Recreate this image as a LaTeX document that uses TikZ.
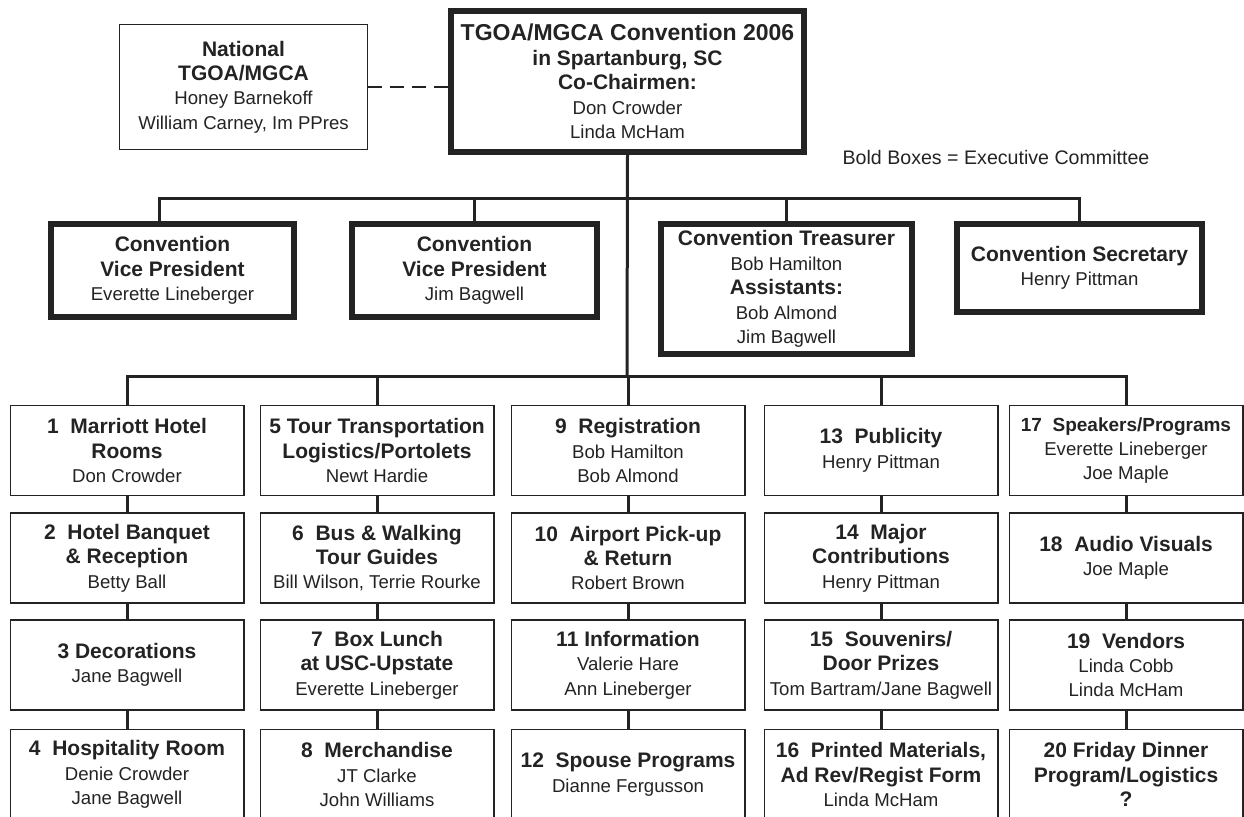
\documentclass[tikz,border=0pt]{standalone}
\usepackage{fontspec}
\setmainfont{Liberation Sans}
\usepackage{xcolor}
\usepackage{tikz}
\usetikzlibrary{positioning, arrows.meta}

\definecolor{ink}{HTML}{232323}
\newcommand{\hdr}[1]{{\fontsize{10.5}{12.2}\selectfont\bfseries #1}}

\begin{document}
\begin{tikzpicture}[
    x=0.5pt, y=-0.5pt, color=ink,
    font=\fontsize{9.3}{12.2}\selectfont,
    gnode/.style={draw, line width=0.75pt, minimum width=116.75pt, minimum height=45pt, inner sep=0pt, align=center},
    xnode/.style={draw, line width=3pt, inner sep=0pt, align=center},
    link/.style={line width=1.5pt, line join=miter}
]
\useasboundingbox (0,0) rectangle (1244,817);

\node[xnode, minimum width=176.5pt, minimum height=70.5pt] (chair) at (627.5, 81.5)
    {{\fontsize{11.5}{12.2}\selectfont\bfseries TGOA/MGCA Convention 2006}\\ \hdr{in Spartanburg, SC}\\ \hdr{Co-Chairmen:}\\ Don Crowder\\ Linda McHam};
\node[draw, line width=0.75pt, minimum width=124pt, minimum height=62.5pt, inner sep=0pt, align=center] (natl) at (243.5, 87)
    {\hdr{National}\\ \hdr{TGOA/MGCA}\\ Honey Barnekoff\\ William Carney, Im PPres};
\node[font=\fontsize{9.8}{12.2}\selectfont] (note) at (996, 158) {Bold Boxes = Executive Committee};

% executive committee
\node[xnode, minimum width=121.5pt, minimum height=46.5pt] (vp1) at (172.5, 270.5)
    {\hdr{Convention}\\ \hdr{Vice President}\\ Everette Lineberger};
\node[xnode, minimum width=122.5pt, minimum height=46.5pt] (vp2) at (474.5, 270.5)
    {\hdr{Convention}\\ \hdr{Vice President}\\ Jim Bagwell};
\node[xnode, minimum width=125.5pt, minimum height=65pt] (treas) at (786.5, 289)
    {\hdr{Convention Treasurer}\\ Bob Hamilton\\ \hdr{Assistants:}\\ Bob Almond\\ Jim Bagwell};
\node[xnode, minimum width=122.5pt, minimum height=44pt] (secr) at (1079.5, 268)
    {\hdr{Convention Secretary}\\ Henry Pittman};

% committees
\node[gnode] (rooms) at (127, 450.5) {\hdr{1\ \ Marriott Hotel}\\ \hdr{Rooms}\\ Don Crowder};
\node[gnode] (banquet) at (127, 558) {\hdr{2\ \ Hotel Banquet}\\ \hdr{\& Reception}\\ Betty Ball};
\node[gnode] (decor) at (127, 665) {\hdr{3 Decorations}\\ Jane Bagwell};
\node[gnode] (hosp) at (127, 774.5) {\hdr{4\ \ Hospitality Room}\\ Denie Crowder\\ Jane Bagwell};

\node[gnode] (transp) at (377, 450.5) {\hdr{5 Tour Transportation}\\ \hdr{Logistics/Portolets}\\ Newt Hardie};
\node[gnode] (guides) at (377, 558) {\hdr{6\ \ Bus \& Walking}\\ \hdr{Tour Guides}\\ Bill Wilson, Terrie Rourke};
\node[gnode] (lunch) at (377, 665) {\hdr{7\ \ Box Lunch}\\ \hdr{at USC-Upstate}\\ Everette Lineberger};
\node[gnode] (merch) at (377, 774.5) {\hdr{8\ \ Merchandise}\\ JT Clarke\\ John Williams};

\node[gnode] (regist) at (628, 450.5) {\hdr{9\ \ Registration}\\ Bob Hamilton\\ Bob Almond};
\node[gnode] (airport) at (628, 558) {\hdr{10\ \ Airport Pick-up}\\ \hdr{\& Return}\\ Robert Brown};
\node[gnode] (info) at (628, 665) {\hdr{11 Information}\\ Valerie Hare\\ Ann Lineberger};
\node[gnode] (spouse) at (628, 774.5) {\hdr{12\ \ Spouse Programs}\\ Dianne Fergusson};

\node[gnode] (public) at (881, 450.5) {\hdr{13\ \ Publicity}\\ Henry Pittman};
\node[gnode] (contrib) at (881, 558) {\hdr{14\ \ Major}\\ \hdr{Contributions}\\ Henry Pittman};
\node[gnode] (souven) at (881, 665) {\hdr{15\ \ Souvenirs/}\\ \hdr{Door Prizes}\\ Tom Bartram/Jane Bagwell};
\node[gnode] (printed) at (881, 774.5) {\hdr{16\ \ Printed Materials,}\\ \hdr{Ad Rev/Regist Form}\\ Linda McHam};

\node[gnode] (speak) at (1126, 450.5) {{\fontsize{9.5}{12.2}\selectfont\bfseries 17\ \ Speakers/Programs}\\ Everette Lineberger\\ Joe Maple};
\node[gnode] (audio) at (1126, 558) {\hdr{18\ \ Audio Visuals}\\ Joe Maple};
\node[gnode] (vendor) at (1126, 665) {\hdr{19\ \ Vendors}\\ Linda Cobb\\ Linda McHam};
\node[gnode] (dinner) at (1126, 774.5) {\hdr{20 Friday Dinner}\\ \hdr{Program/Logistics}\\ \hdr{?}};

% connectors
\draw[dashed, line width=1pt, dash pattern=on 7pt off 4pt] (natl.east |- 0,87) -- (chair.west |- 0,87);

\coordinate (bus1) at (159, 199);
\coordinate (bus2) at (627, 377);
\draw[link] (chair.south) -- (bus2);
\draw[link] (vp1.north -| bus1) -- (bus1) -- (secr.north |- bus1) -- (secr.north);
\draw[link] (vp2.north) -- (vp2.north |- bus1);
\draw[link] (treas.north) -- (treas.north |- bus1);
\draw[link] (rooms.north) -- (rooms.north |- bus2) -- (speak.north |- bus2) -- (speak.north);
\draw[link] (transp.north) -- (transp.north |- bus2);
\draw[link] (regist.north) -- (regist.north |- bus2);
\draw[link] (public.north) -- (public.north |- bus2);

\draw[link] (rooms) -- (banquet);
\draw[link] (banquet) -- (decor);
\draw[link] (decor) -- (hosp);
\draw[link] (transp) -- (guides);
\draw[link] (guides) -- (lunch);
\draw[link] (lunch) -- (merch);
\draw[link] (regist) -- (airport);
\draw[link] (airport) -- (info);
\draw[link] (info) -- (spouse);
\draw[link] (public) -- (contrib);
\draw[link] (contrib) -- (souven);
\draw[link] (souven) -- (printed);
\draw[link] (speak) -- (audio);
\draw[link] (audio) -- (vendor);
\draw[link] (vendor) -- (dinner);
\end{tikzpicture}
\end{document}
